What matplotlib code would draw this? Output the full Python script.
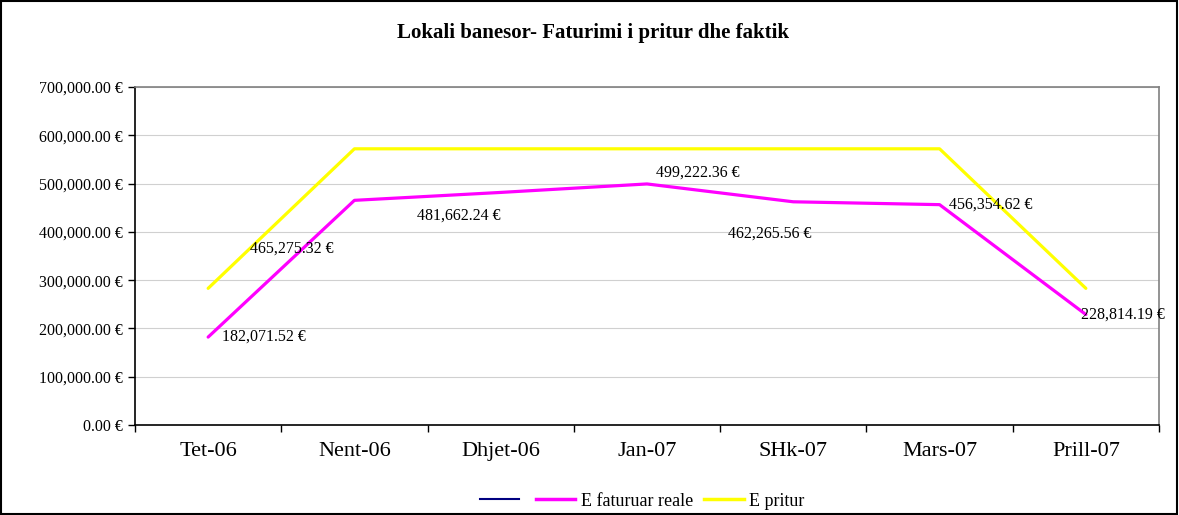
import matplotlib
matplotlib.use("Agg")
import matplotlib.pyplot as plt
from matplotlib.lines import Line2D
from matplotlib.patches import Rectangle
from matplotlib.ticker import FuncFormatter, MultipleLocator, FixedLocator

categories = ["Tet-06", "Nent-06", "Dhjet-06", "Jan-07", "SHk-07", "Mars-07", "Prill-07"]
faturuar_reale = [182071.52, 465275.32, 481662.24, 499222.36, 462265.56, 456354.62, 228814.19]
pritur = [283000, 572000, 572000, 572000, 572000, 572000, 283000]
title = "Lokali banesor- Faturimi i pritur dhe faktik"

# label offsets in pixels (dx, dy) relative to each point
label_offsets = [(14, 0), (-104, -48), (-84, -23), (9, 11), (-65, -32), (9, 0), (-5, 0)]

plt.rcParams['font.family'] = ['Liberation Serif', 'DejaVu Serif']

fig = plt.figure(figsize=(11.79, 5.15), dpi=100)
ax = fig.add_axes([135/1179, 90/515, (1159-135)/1179, (425-87)/515])

x = list(range(len(categories)))
ax.plot(x, pritur, color="#FFFF00", lw=2.3, solid_capstyle="round", zorder=3)
ax.plot(x, faturuar_reale, color="#FF00FF", lw=2.3, solid_capstyle="round", zorder=4)

for xi, v, (dx, dy) in zip(x, faturuar_reale, label_offsets):
    ax.annotate(f"{v:,.2f} €", (xi, v), xytext=(dx, dy), textcoords="offset pixels",
                ha="left", va="center", fontsize=11.5, color="black", zorder=5)

ax.set_xlim(-0.5, len(categories) - 0.5)
ax.set_ylim(0, 700000)
ax.yaxis.set_major_locator(MultipleLocator(100000))
ax.yaxis.set_major_formatter(FuncFormatter(lambda v, p: f"{v:,.2f} €"))
ax.grid(axis="y", color="#d0d0d0", lw=0.8)
ax.set_axisbelow(True)

ax.set_xticks(x)
ax.set_xticklabels(categories, fontsize=16)
ax.xaxis.set_minor_locator(FixedLocator([i - 0.5 for i in range(len(categories) + 1)]))
ax.tick_params(axis="x", which="major", length=0, pad=12)
ax.tick_params(axis="x", which="minor", length=5, width=1, direction="out")
ax.tick_params(axis="y", length=5, width=1, direction="out", labelsize=11.5, pad=4)

for s in ["left", "bottom"]:
    ax.spines[s].set_color("black")
    ax.spines[s].set_linewidth(1.2)
for s in ["top", "right"]:
    ax.spines[s].set_color("#808080")
    ax.spines[s].set_linewidth(1.2)

fig.text(593/1179, 1 - 33/515, title, ha="center", va="center", fontsize=15, fontweight="bold")

handles = [Line2D([], [], color="#000080", lw=1.5),
           Line2D([], [], color="#FF00FF", lw=2.5),
           Line2D([], [], color="#FFFF00", lw=2.5)]
labels = ["", "E faturuar reale", "E pritur"]
fig.legend(handles, labels, loc="center", bbox_to_anchor=(642/1179, 1 - 501/515), ncol=3,
           frameon=False, fontsize=13, handlelength=2.2, handletextpad=0.3, columnspacing=0.6)

fig.patches.append(Rectangle((0.001, 0.001), 0.997, 0.997, transform=fig.transFigure,
                             fill=False, edgecolor="black", lw=1.5))

fig.savefig("out.png", dpi=100)
